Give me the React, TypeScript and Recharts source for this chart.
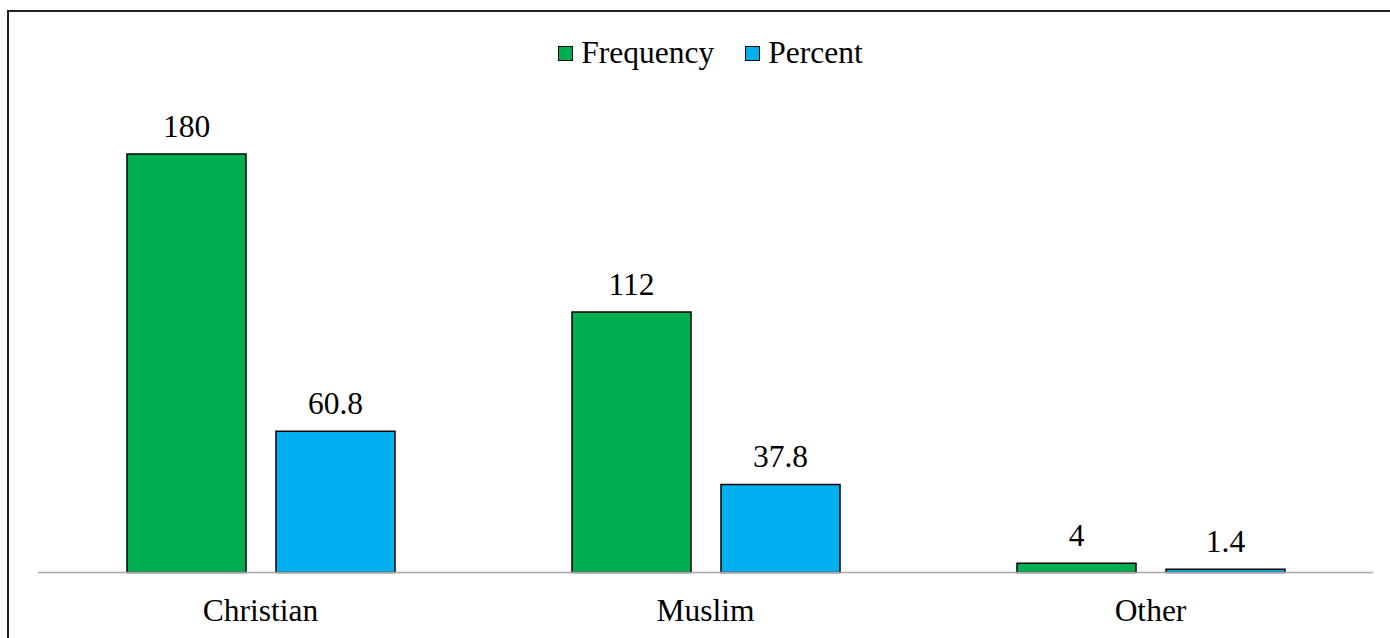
import { BarChart, Bar, XAxis, YAxis, Legend, LabelList } from "recharts";

const categories = ["Christian", "Muslim", "Other"];
const frequency = [180, 112, 4];
const percent = [60.8, 37.8, 1.4];

const data = categories.map((name, i) => ({
  name,
  Frequency: frequency[i],
  Percent: percent[i],
}));

const FONT = '"Liberation Serif", "Times New Roman", serif';
const SIZE = 31.5;
const GREEN = "#00B050";
const BLUE = "#00B0F0";

const LegendBox = () => (
  <div
    style={{
      height: 69.5,
      display: "flex",
      justifyContent: "center",
      alignItems: "flex-start",
      paddingLeft: 10,
      boxSizing: "border-box",
    }}
  >
    {[
      { label: "Frequency", color: GREEN },
      { label: "Percent", color: BLUE },
    ].map((item, i) => (
      <div
        key={item.label}
        style={{ display: "flex", alignItems: "center", height: 30, marginLeft: i ? 31 : 0 }}
      >
        <span
          style={{
            width: 13,
            height: 13,
            background: item.color,
            border: "1.5px solid #000",
            marginRight: 8,
          }}
        />
        <span style={{ fontFamily: FONT, fontSize: SIZE, color: "#000", lineHeight: "30px" }}>
          {item.label}
        </span>
      </div>
    ))}
  </div>
);

const App = () => {
  return (
    <div style={{ position: "relative", width: 1390, height: 638, overflow: "hidden", background: "#fff" }}>
      <style>{`body{margin:0;overflow:hidden}`}</style>
      <div
        style={{
          position: "absolute",
          left: 7,
          top: 10,
          width: 1500,
          height: 700,
          borderLeft: "2px solid #222",
          borderTop: "2px solid #222",
        }}
      />
      <div style={{ position: "absolute", left: 0, top: 0 }}>
        <BarChart
          width={1390}
          height={638}
          data={data}
          margin={{ top: 38, right: 17, bottom: 5.5, left: 38 }}
          barSize={119}
          barGap={30}
        >
          <Legend verticalAlign="top" content={() => <LegendBox />} />
          <XAxis
            dataKey="name"
            height={60}
            tickLine={false}
            tickMargin={20}
            axisLine={{ stroke: "#a6a6a6", strokeWidth: 1.5 }}
            tick={{ fill: "#000", fontSize: SIZE, fontFamily: FONT }}
          />
          <YAxis hide domain={[0, 200]} />
          <Bar dataKey="Frequency" fill={GREEN} stroke="#000" strokeWidth={1.5} isAnimationActive={false}>
            <LabelList
              dataKey="Frequency"
              position="top"
              offset={17.5}
              style={{ fill: "#000", fontSize: SIZE, fontFamily: FONT }}
            />
          </Bar>
          <Bar dataKey="Percent" fill={BLUE} stroke="#000" strokeWidth={1.5} isAnimationActive={false}>
            <LabelList
              dataKey="Percent"
              position="top"
              offset={17.5}
              style={{ fill: "#000", fontSize: SIZE, fontFamily: FONT }}
            />
          </Bar>
        </BarChart>
      </div>
    </div>
  );
};

export default App;
